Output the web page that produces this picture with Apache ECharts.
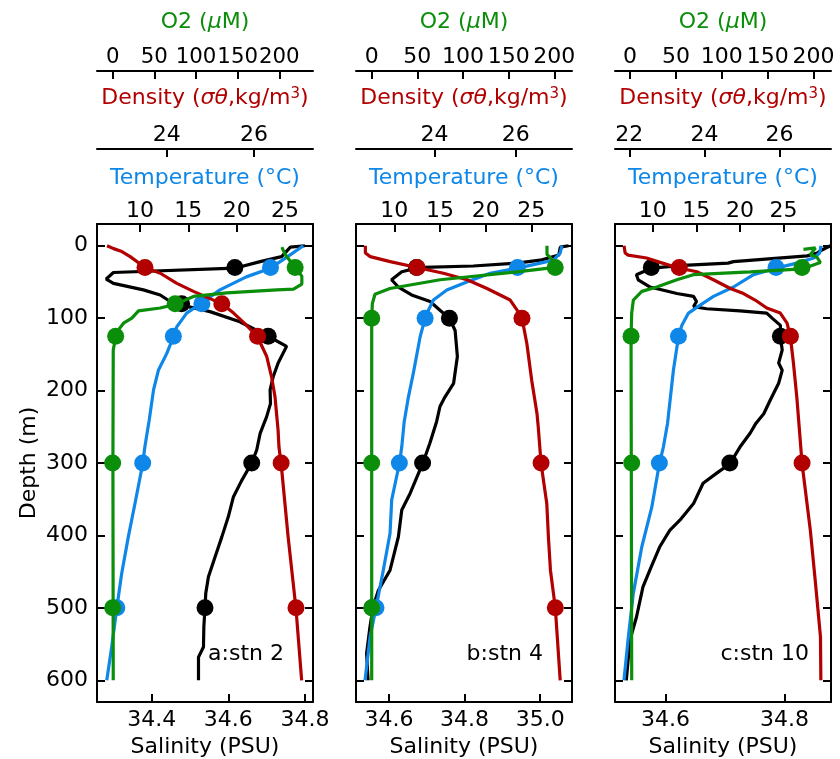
<!DOCTYPE html>
<html>
<head>
<meta charset="utf-8">
<script src="https://cdn.jsdelivr.net/npm/echarts@6/dist/echarts.min.js"></script>
<style>html,body{margin:0;padding:0;background:#fff}#c{width:840px;height:759px}</style>
</head>
<body>
<div id="c"></div>
<script>
// ---------- DATA (depth in m, value) ----------
// Station 2 (panel a)
const a_salinity = [[0,34.80],[2,34.762],[15,34.739],[22,34.683],[31,34.617],[37,34.30],[46,34.281],[52,34.30],[61,34.378],[68,34.422],[77,34.448],[82,34.478],[91,34.552],[105,34.63],[125,34.704],[139,34.752],[162,34.73],[181,34.717],[199,34.709],[218,34.71],[236,34.70],[259,34.683],[282,34.674],[300,34.661],[324,34.635],[347,34.613],[374,34.60],[402,34.583],[430,34.565],[457,34.548],[480,34.541],[501,34.539],[526,34.536],[554,34.535],[568,34.522],[600,34.522]];
const a_temperature = [[0,26.9],[13,25.5],[22,24.5],[31,23.5],[43,21.0],[61,18.27],[79,16.38],[93,14.83],[112,13.8],[126,13.45],[149,12.76],[172,11.9],[199,11.4],[241,10.95],[278,10.5],[301,10.28],[356,9.48],[402,8.79],[453,8.1],[501,7.59],[554,7.07],[600,6.56]];
const a_density = [[0,22.63],[4,22.78],[8,22.97],[15,23.16],[30,23.5],[38,23.85],[52,24.23],[63,24.61],[73,24.99],[80,25.26],[93,25.53],[110,25.83],[126,26.08],[153,26.29],[181,26.40],[209,26.48],[255,26.55],[278,26.57],[301,26.62],[402,26.78],[501,26.96],[600,27.09]];
const a_oxygen = [[2,203],[12,207],[21,213],[30,219],[42,227],[53,227],[60,217],[61,197],[65,137],[70,97],[81,75],[86,57],[90,31],[100,23],[107,13],[116,7],[126,3.6],[144,0.7],[300,0.3],[600,0.7]];
const a_dot_depth = [30, 80, 125, 300, 500];
const a_sal_dots = [34.617, 34.478, 34.704, 34.661, 34.539];
const a_temp_dots = [23.5, 16.4, 13.45, 10.28, 7.6];
const a_dens_dots = [23.5, 25.26, 26.08, 26.62, 26.96];
const a_oxy_dots = [219, 75, 3.6, 0, 0];

// Station 4 (panel b)
const b_salinity = [[0,35.075],[2,35.053],[13,35.049],[20,35.0],[24,34.938],[28,34.823],[30,34.691],[31,34.673],[36,34.634],[47,34.607],[57,34.625],[68,34.66],[77,34.709],[89,34.735],[100,34.76],[117,34.775],[153,34.781],[190,34.771],[209,34.748],[222,34.735],[243,34.726],[273,34.708],[301,34.689],[342,34.656],[365,34.634],[402,34.625],[448,34.603],[476,34.572],[499,34.558],[526,34.55],[563,34.541],[600,34.545]];
const b_temperature = [[0,28.36],[10,28.17],[20,27.43],[24,25.98],[31,23.49],[38,20.49],[50,17.94],[61,15.75],[75,14.28],[89,13.73],[100,13.37],[126,12.82],[176,12.08],[209,11.54],[243,11.08],[278,10.81],[301,10.55],[351,9.71],[397,9.53],[448,8.79],[500,7.99],[540,7.34],[600,6.79]];
const b_density = [[0,22.30],[10,22.30],[15,22.42],[22,22.91],[30,23.57],[38,24.22],[47,24.80],[59,25.29],[75,25.86],[89,26.03],[100,26.15],[135,26.27],[186,26.39],[232,26.52],[250,26.55],[301,26.62],[356,26.76],[402,26.80],[448,26.85],[500,26.97],[600,27.09]];
const b_oxygen = [[0,192],[12,192],[21,199],[30,201],[36,159],[47,75],[59,20],[67,3.6],[80,0.7],[100,0],[600,0]];
const b_dot_depth = [30, 100, 300, 500];
const b_sal_dots = [34.673, 34.76, 34.689, 34.556];
const b_temp_dots = [23.49, 13.37, 10.55, 7.99];
const b_dens_dots = [23.57, 26.15, 26.62, 26.97];
const b_oxy_dots = [201, 0, 0, 0];

// Station 10 (panel c)
const c_salinity = [[0,34.877],[7,34.86],[10,34.855],[14,34.838],[22,34.714],[24,34.705],[27,34.63],[31,34.576],[40,34.551],[47,34.554],[57,34.574],[66,34.619],[70,34.647],[77,34.652],[84,34.647],[87,34.669],[90,34.725],[93,34.77],[100,34.779],[110,34.793],[126,34.793],[144,34.796],[162,34.79],[172,34.796],[190,34.79],[213,34.776],[232,34.765],[245,34.752],[259,34.742],[278,34.725],[301,34.708],[314,34.686],[328,34.663],[356,34.647],[379,34.624],[393,34.607],[416,34.59],[443,34.576],[471,34.562],[513,34.551],[545,34.54],[600,34.534]];
const c_temperature = [[0,29.31],[10,29.15],[17,28.46],[24,26.55],[31,24.14],[40,21.56],[57,19.26],[70,16.97],[82,15.44],[93,14.1],[110,13.33],[126,12.95],[172,12.37],[245,11.7],[278,11.22],[301,10.76],[361,9.89],[416,8.74],[480,7.77],[540,7.2],[600,6.7]];
const c_density = [[0,21.86],[10,21.89],[13,21.97],[17,22.46],[23,22.82],[31,23.33],[36,23.8],[47,24.24],[59,24.69],[66,25.04],[75,25.35],[86,25.66],[93,26.02],[107,26.2],[126,26.29],[162,26.37],[209,26.46],[255,26.53],[301,26.6],[393,26.82],[462,26.95],[540,27.09],[600,27.1]];
const c_oxygen = [[5,189],[3,202],[12,196.5],[16,203.8],[23,207.4],[32,187.4],[36,131],[40,69],[47,51],[57,29.1],[63,12.8],[75,3.6],[93,1.8],[126,1.1],[600,1.8]];
const c_dot_depth = [30, 125, 300];
const c_sal_dots = [34.576, 34.793, 34.708];
const c_temp_dots = [24.14, 12.95, 10.76];
const c_dens_dots = [23.33, 26.29, 26.6];
const c_oxy_dots = [187.4, 1.1, 1.8];

// tick labels
const depth_ticks = [0, 100, 200, 300, 400, 500, 600];
const sal_ticks = [[34.4, 34.6, 34.8], [34.6, 34.8, 35.0], [34.6, 34.8]];
const temp_ticks = [10, 15, 20, 25];
const dens_ticks = [[24, 26], [24, 26], [22, 24, 26]];
const oxy_ticks = [0, 50, 100, 150, 200];
const panel_labels = ['a:stn 2', 'b:stn 4', 'c:stn 10'];

// ---------- STYLE / LAYOUT ----------
const FONT = 'DejaVu Sans';
const FS = 22;
const COL = {sal: '#000000', temp: '#0e87e8', dens: '#b20000', oxy: '#0b8f0b'};
const lefts = [97, 356, 615];
const W = 216, TOP = 224, H = 478;
const ranges = [
  {sal: [34.257, 34.821], temp: [5.55, 27.9], dens: [22.4, 27.35], oxy: [-18.8, 240.4]},
  {sal: [34.513, 35.084], temp: [5.8, 29.46], dens: [22.07, 27.38], oxy: [-17.2, 219.4]},
  {sal: [34.515, 34.878], temp: [5.67, 30.45], dens: [21.62, 27.37], oxy: [-16.4, 219]}
];
const oxyLabelFS = [21.3, FS, FS];
const panels = [
  {sal: a_salinity, temp: a_temperature, dens: a_density, oxy: a_oxygen, dd: a_dot_depth, sd: a_sal_dots, td: a_temp_dots, ed: a_dens_dots, od: a_oxy_dots},
  {sal: b_salinity, temp: b_temperature, dens: b_density, oxy: b_oxygen, dd: b_dot_depth, sd: b_sal_dots, td: b_temp_dots, ed: b_dens_dots, od: b_oxy_dots},
  {sal: c_salinity, temp: c_temperature, dens: c_density, oxy: c_oxygen, dd: c_dot_depth, sd: c_sal_dots, td: c_temp_dots, ed: c_dens_dots, od: c_oxy_dots}
];
const labelRight = [284, 543, 809];

const lineAx = {show: true, onZero: false, lineStyle: {color: '#000', width: 2}};
const tickSt = (vals) => ({show: true, inside: true, length: 8, lineStyle: {color: '#000', width: 2}, customValues: vals});
const lblSt = (vals, margin, show) => ({show: show !== false, customValues: vals, margin: margin, hideOverlap: false,
  showMinLabel: true, showMaxLabel: true, color: '#000', fontSize: FS, fontFamily: FONT, formatter: v => String(v)});

const grids = [], xAxes = [], yAxes = [], series = [], graphics = [];
for (let i = 0; i < 3; i++) {
  grids.push({left: lefts[i], top: TOP, width: W, height: H, outerBoundsMode: 'none', containLabel: false});
  const r = ranges[i];
  xAxes.push({type: 'value', gridIndex: i, position: 'bottom', min: r.sal[0], max: r.sal[1],
    axisLine: lineAx, axisTick: tickSt(sal_ticks[i]),
    axisLabel: Object.assign(lblSt(sal_ticks[i], 7), {formatter: v => v.toFixed(1)}),
    splitLine: {show: false},
    name: 'Salinity (PSU)', nameLocation: 'middle', nameGap: 33,
    nameTextStyle: {color: '#000', fontSize: FS, fontFamily: FONT}});
  xAxes.push({type: 'value', gridIndex: i, position: 'top', offset: 0, min: r.temp[0], max: r.temp[1],
    axisLine: lineAx, axisTick: tickSt(temp_ticks), axisLabel: lblSt(temp_ticks, 2), splitLine: {show: false},
    name: 'Temperature (°C)', nameLocation: 'middle', nameGap: 35,
    nameTextStyle: {color: COL.temp, fontSize: FS, fontFamily: FONT}});
  xAxes.push({type: 'value', gridIndex: i, position: 'top', offset: 75, min: r.dens[0], max: r.dens[1],
    axisLine: lineAx, axisTick: tickSt(dens_ticks[i]), axisLabel: lblSt(dens_ticks[i], 3), splitLine: {show: false},
    name: '{n|Density (}{i|σθ}{n|,kg/m}{s|3}{n|)}', nameLocation: 'middle', nameGap: 40,
    nameTextStyle: {color: COL.dens, fontSize: FS, fontFamily: FONT,
      rich: {n: {color: COL.dens, fontSize: FS, fontFamily: FONT},
             i: {color: COL.dens, fontSize: FS, fontFamily: FONT, fontStyle: 'italic'},
             s: {color: COL.dens, fontSize: 15, fontFamily: FONT, verticalAlign: 'top'}}}});
  xAxes.push({type: 'value', gridIndex: i, position: 'top', offset: 153, min: r.oxy[0], max: r.oxy[1],
    axisLine: lineAx, axisTick: tickSt(oxy_ticks),
    axisLabel: Object.assign(lblSt(oxy_ticks, 3), {fontSize: oxyLabelFS[i]}), splitLine: {show: false},
    name: '{n|O2 (}{i|μ}{n|M)}', nameLocation: 'middle', nameGap: 38,
    nameTextStyle: {color: COL.oxy, fontSize: FS, fontFamily: FONT,
      rich: {n: {color: COL.oxy, fontSize: FS, fontFamily: FONT},
             i: {color: COL.oxy, fontSize: FS, fontFamily: FONT, fontStyle: 'italic'}}}});
  yAxes.push({type: 'value', gridIndex: i, position: 'left', inverse: true, min: -30, max: 630,
    axisLine: lineAx, axisTick: tickSt(depth_ticks), axisLabel: lblSt(depth_ticks, 9, i === 0), splitLine: {show: false},
    name: i === 0 ? 'Depth (m)' : '', nameLocation: 'middle', nameGap: 57, nameRotate: 90,
    nameTextStyle: {color: '#000', fontSize: FS, fontFamily: FONT}});
  yAxes.push({type: 'value', gridIndex: i, position: 'right', inverse: true, min: -30, max: 630,
    axisLine: lineAx, axisTick: tickSt(depth_ticks), axisLabel: {show: false}, splitLine: {show: false}});

  const p = panels[i];
  const vars = [['sal', p.sal, p.sd, 0], ['temp', p.temp, p.td, 1], ['dens', p.dens, p.ed, 2], ['oxy', p.oxy, p.od, 3]];
  vars.forEach(([k, line, dots, ax], j) => {
    series.push({type: 'line', xAxisIndex: 4 * i + ax, yAxisIndex: 2 * i, data: line.map(d => [d[1], d[0]]),
      showSymbol: false, symbol: 'none', lineStyle: {color: COL[k], width: 3.2}, z: 2 + j * 2, clip: true});
    series.push({type: 'scatter', xAxisIndex: 4 * i + ax, yAxisIndex: 2 * i, data: dots.map((v, n) => [v, p.dd[n]]),
      symbol: 'circle', symbolSize: 17, itemStyle: {color: COL[k], opacity: 1}, z: 3 + j * 2});
  });
  graphics.push({type: 'text', x: labelRight[i], y: 654,
    style: {text: panel_labels[i], align: 'right', verticalAlign: 'middle', fill: '#000', fontSize: FS, fontFamily: FONT}});
}

const chart = echarts.init(document.getElementById('c'), null, {renderer: 'canvas'});
chart.setOption({
  animation: false,
  backgroundColor: '#fff',
  grid: grids, xAxis: xAxes, yAxis: yAxes, series: series, graphic: graphics,
  tooltip: {show: false}, legend: {show: false}
});
</script>
</body>
</html>
